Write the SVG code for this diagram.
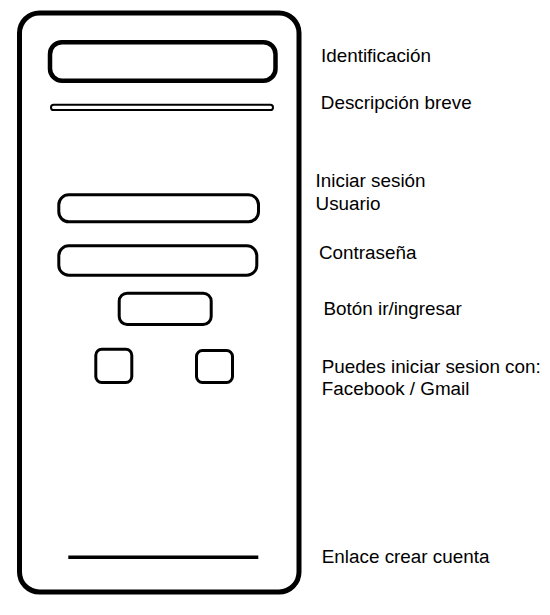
<svg xmlns="http://www.w3.org/2000/svg" width="550" height="615" viewBox="0 0 550 615">
<style>
.box{fill:none;stroke:#000;stroke-width:3}
.lbl{font-family:"Liberation Sans",Arial,sans-serif;font-size:18.85px;fill:#000}
</style>
<rect width="550" height="615" fill="#fff"/>
<g id="frame"><rect x="19.5" y="13" width="279.5" height="579" rx="20" fill="none" stroke="#000" stroke-width="5"/></g>
<g id="identificacion"><rect x="50" y="42.2" width="225.5" height="38.5" rx="12" fill="none" stroke="#000" stroke-width="4.5"/></g>
<g id="descripcion"><rect x="51" y="104.8" width="222" height="5.2" rx="2.6" fill="none" stroke="#000" stroke-width="2"/></g>
<g id="usuario"><rect x="58.8" y="194.8" width="199.7" height="27" rx="10" class="box"/></g>
<g id="contrasena"><rect x="58.8" y="245.8" width="198" height="29.4" rx="10" class="box"/></g>
<g id="boton"><rect x="119.2" y="293.2" width="92" height="31.3" rx="8" class="box"/></g>
<g id="facebook"><rect x="95.8" y="349.2" width="36" height="33.3" rx="6" class="box"/></g>
<g id="gmail"><rect x="196.5" y="350.5" width="36" height="32" rx="6" class="box"/></g>
<g id="enlace"><line x1="68.3" y1="557.3" x2="258.3" y2="557.3" stroke="#000" stroke-width="3.5"/></g>
<g id="labels">
<text class="lbl" x="321" y="62.3">Identificación</text>
<text class="lbl" x="320.8" y="109">Descripción breve</text>
<text class="lbl" x="315.6" y="187.3">Iniciar sesión</text>
<text class="lbl" x="315.6" y="210">Usuario</text>
<text class="lbl" x="319" y="259.2">Contraseña</text>
<text class="lbl" x="323.5" y="315.3">Botón ir/ingresar</text>
<text class="lbl" x="321.8" y="372.7">Puedes iniciar sesion con:</text>
<text class="lbl" x="321.8" y="395">Facebook / Gmail</text>
<text class="lbl" x="321.8" y="563.3">Enlace crear cuenta</text>
</g>
<g id="connectors"/>
</svg>
